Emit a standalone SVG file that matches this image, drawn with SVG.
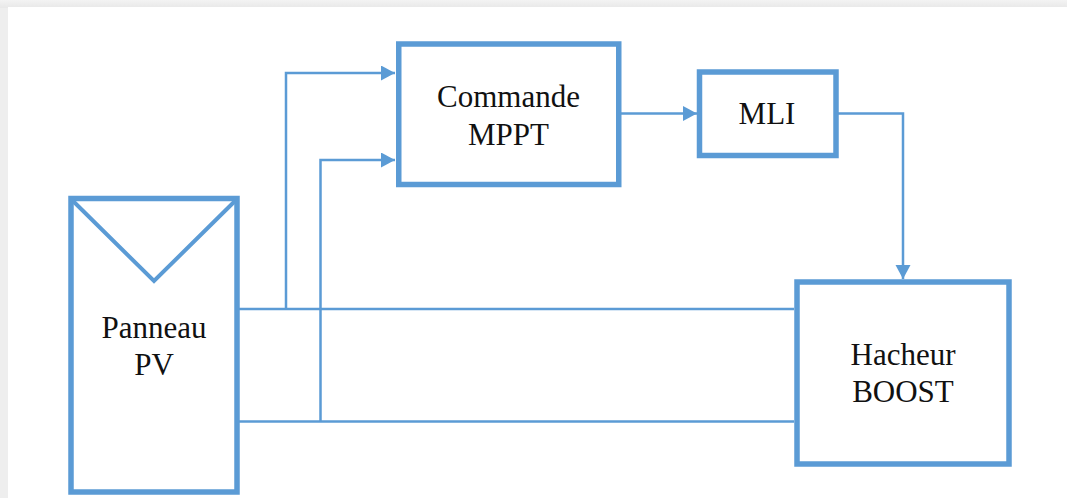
<svg xmlns="http://www.w3.org/2000/svg" width="1067" height="498" viewBox="0 0 1067 498">
  <defs>
    <style>
      .box { fill: #ffffff; stroke: #5b9bd5; stroke-width: 5.5; }
      .wire { fill: none; stroke: #5b9bd5; stroke-width: 2.5; }
      .lbl { font-family: "Liberation Serif", "Times New Roman", serif; font-size: 31px; fill: #111111; text-anchor: middle; }
    </style>
    <marker id="arr" markerUnits="userSpaceOnUse" markerWidth="15" markerHeight="16" refX="14" refY="7.5" orient="auto">
      <path d="M0,0 L14,7.5 L0,15 z" fill="#5b9bd5"/>
    </marker>
    <linearGradient id="shTop" x1="0" y1="0" x2="0" y2="1">
      <stop offset="0" stop-color="#f3f3f3"/>
      <stop offset="1" stop-color="#e8e8e8"/>
    </linearGradient>
  </defs>

  <rect x="0" y="0" width="1067" height="498" fill="#eeeeee"/>
  <rect x="0" y="0" width="1067" height="8" fill="url(#shTop)"/>
  <rect x="8" y="7" width="1059" height="491" fill="#ffffff"/>

  <g id="connectors">
    <path class="wire" d="M237 309 H794"/>
    <path class="wire" d="M237 421.5 H794"/>
    <path class="wire" d="M286 309 V73 H395" marker-end="url(#arr)"/>
    <path class="wire" d="M320.5 421.5 V160 H395" marker-end="url(#arr)"/>
    <path class="wire" d="M621 113.5 H697" marker-end="url(#arr)"/>
    <path class="wire" d="M838 113.5 H903 V279" marker-end="url(#arr)"/>
  </g>

  <g id="panneau-pv">
    <rect class="box" x="71" y="198.5" width="166" height="293.5" stroke-width="6"/>
    <path d="M73 201 L154 281 L235 201" fill="none" stroke="#5b9bd5" stroke-width="4"/>
    <text class="lbl" x="154" y="338">Panneau</text>
    <text class="lbl" x="154" y="375">PV</text>
  </g>

  <g id="commande-mppt">
    <rect class="box" x="398.75" y="44" width="220" height="140.5"/>
    <text class="lbl" x="508.5" y="107">Commande</text>
    <text class="lbl" x="508.5" y="145">MPPT</text>
  </g>

  <g id="mli">
    <rect class="box" x="699.5" y="72" width="136.5" height="83.5"/>
    <text class="lbl" x="767" y="124">MLI</text>
  </g>

  <g id="hacheur-boost">
    <rect class="box" x="797" y="282" width="212" height="182" stroke-width="6"/>
    <text class="lbl" x="903" y="365">Hacheur</text>
    <text class="lbl" x="903" y="402">BOOST</text>
  </g>
</svg>
